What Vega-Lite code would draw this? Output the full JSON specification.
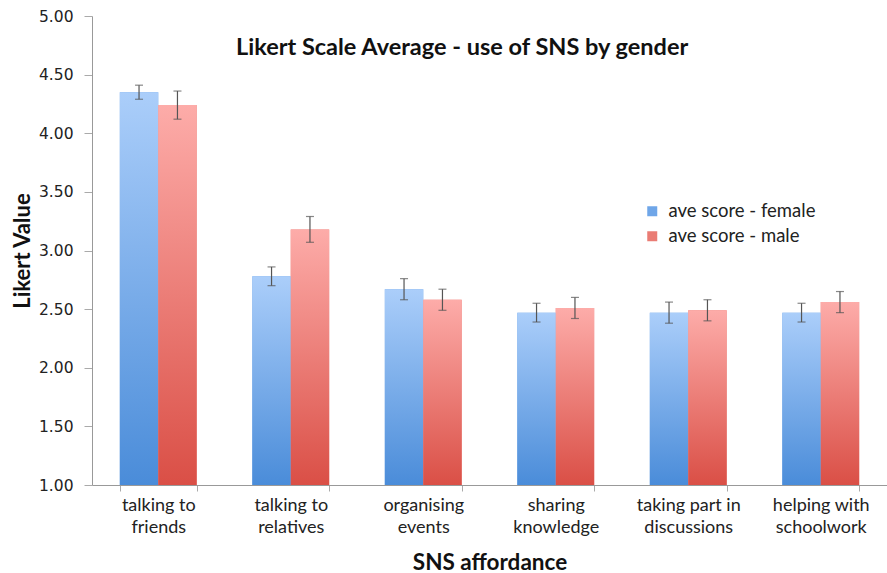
{
  "$schema": "https://vega.github.io/schema/vega-lite/v6.json",
  "width": 795,
  "height": 469,
  "autosize": {"type": "none"},
  "padding": {"left": 92, "top": 16, "right": 0, "bottom": 88},
  "background": "white",
  "title": {
    "text": "Likert Scale Average - use of SNS by gender",
    "anchor": "start",
    "frame": "group",
    "dx": 144,
    "dy": 54,
    "font": "Lato",
    "fontSize": 23.5,
    "fontWeight": "bold",
    "color": "#111"
  },
  "data": {
    "values": [
      {"cat": "talking to friends", "gender": "ave score - female", "value": 4.35, "lo": 4.29, "hi": 4.41},
      {"cat": "talking to friends", "gender": "ave score - male", "value": 4.24, "lo": 4.12, "hi": 4.36},
      {"cat": "talking to relatives", "gender": "ave score - female", "value": 2.78, "lo": 2.70, "hi": 2.86},
      {"cat": "talking to relatives", "gender": "ave score - male", "value": 3.18, "lo": 3.07, "hi": 3.29},
      {"cat": "organising events", "gender": "ave score - female", "value": 2.67, "lo": 2.58, "hi": 2.76},
      {"cat": "organising events", "gender": "ave score - male", "value": 2.58, "lo": 2.49, "hi": 2.67},
      {"cat": "sharing knowledge", "gender": "ave score - female", "value": 2.47, "lo": 2.39, "hi": 2.55},
      {"cat": "sharing knowledge", "gender": "ave score - male", "value": 2.51, "lo": 2.42, "hi": 2.60},
      {"cat": "taking part in discussions", "gender": "ave score - female", "value": 2.47, "lo": 2.38, "hi": 2.56},
      {"cat": "taking part in discussions", "gender": "ave score - male", "value": 2.49, "lo": 2.40, "hi": 2.58},
      {"cat": "helping with schoolwork", "gender": "ave score - female", "value": 2.47, "lo": 2.39, "hi": 2.55},
      {"cat": "helping with schoolwork", "gender": "ave score - male", "value": 2.56, "lo": 2.47, "hi": 2.65}
    ]
  },
  "layer": [
    {
      "mark": {"type": "bar"},
      "encoding": {
        "x": {
          "field": "cat",
          "type": "nominal",
          "sort": null,
          "scale": {"paddingInner": 0.42, "paddingOuter": 0.21},
          "axis": {
            "orient": "bottom",
            "title": "SNS affordance",
            "titleFont": "Lato",
            "titleFontSize": 22.5,
            "titleFontWeight": "bold",
            "titleColor": "#111",
            "titlePadding": 15,
            "labelAngle": 0,
            "labelFont": "Lato",
            "labelFontSize": 18,
            "labelColor": "#222",
            "labelPadding": 5,
            "labelLineHeight": 22,
            "labelExpr": "[substring(datum.label, 0, lastindexof(datum.label, ' ')), substring(datum.label, lastindexof(datum.label, ' ') + 1)]",
            "ticks": true,
            "tickBand": "extent",
            "tickSize": 6,
            "tickColor": "#aaa",
            "domain": true,
            "domainColor": "#999",
            "grid": false
          }
        },
        "xOffset": {"field": "gender", "type": "nominal", "scale": {"paddingInner": 0, "paddingOuter": 0}},
        "y": {
          "field": "value",
          "type": "quantitative",
          "scale": {"domain": [1, 5], "zero": false, "nice": false},
          "axis": {
            "title": "Likert Value",
            "titleFont": "Lato",
            "titleFontSize": 22,
            "titleFontWeight": "bold",
            "titleColor": "#111",
            "titlePadding": 4,
            "values": [1, 1.5, 2, 2.5, 3, 3.5, 4, 4.5, 5],
            "format": ".2f",
            "labelFont": "DejaVu Sans",
            "labelFontSize": 15.5,
            "labelColor": "#222",
            "labelPadding": 11,
            "tickSize": 8,
            "tickColor": "#aaa",
            "domainColor": "#999",
            "grid": false
          }
        },
        "y2": {"datum": 1},
        "color": {
          "field": "gender",
          "type": "nominal",
          "scale": {
            "domain": ["ave score - female", "ave score - male"],
            "range": ["#6fa6e8", "#ea7c74"]
          },
          "legend": {
            "title": null,
            "orient": "none",
            "legendX": 551,
            "legendY": 186,
            "symbolType": "square",
            "symbolSize": 100,
            "symbolStrokeWidth": 0,
            "labelFont": "Lato",
            "labelFontSize": 18.5,
            "labelColor": "#222",
            "labelOffset": 7,
            "rowPadding": 6
          }
        }
      }
    },
    {
      "mark": {"type": "bar"},
      "encoding": {
        "x": {"field": "cat", "type": "nominal", "sort": null},
        "xOffset": {"field": "gender", "type": "nominal"},
        "y": {"field": "value", "type": "quantitative"},
        "y2": {"datum": 1},
        "color": {
          "condition": {
            "test": "datum.gender === 'ave score - female'",
            "value": {"gradient": "linear", "x1": 0, "y1": 0, "x2": 0, "y2": 1, "stops": [{"offset": 0, "color": "#abcefa"}, {"offset": 1, "color": "#4a8cd9"}]}
          },
          "value": {"gradient": "linear", "x1": 0, "y1": 0, "x2": 0, "y2": 1, "stops": [{"offset": 0, "color": "#fdaca9"}, {"offset": 1, "color": "#da4f46"}]}
        }
      }
    },
    {
      "mark": {"type": "rule", "color": "#555", "strokeWidth": 1.2},
      "encoding": {
        "x": {"field": "cat", "type": "nominal", "sort": null},
        "xOffset": {"field": "gender", "type": "nominal"},
        "y": {"field": "lo", "type": "quantitative"},
        "y2": {"field": "hi"}
      }
    },
    {
      "mark": {"type": "tick", "color": "#555", "thickness": 1.2, "size": 8},
      "encoding": {
        "x": {"field": "cat", "type": "nominal", "sort": null},
        "xOffset": {"field": "gender", "type": "nominal"},
        "y": {"field": "lo", "type": "quantitative"}
      }
    },
    {
      "mark": {"type": "tick", "color": "#555", "thickness": 1.2, "size": 8},
      "encoding": {
        "x": {"field": "cat", "type": "nominal", "sort": null},
        "xOffset": {"field": "gender", "type": "nominal"},
        "y": {"field": "hi", "type": "quantitative"}
      }
    }
  ],
  "config": {"view": {"stroke": null}}
}
